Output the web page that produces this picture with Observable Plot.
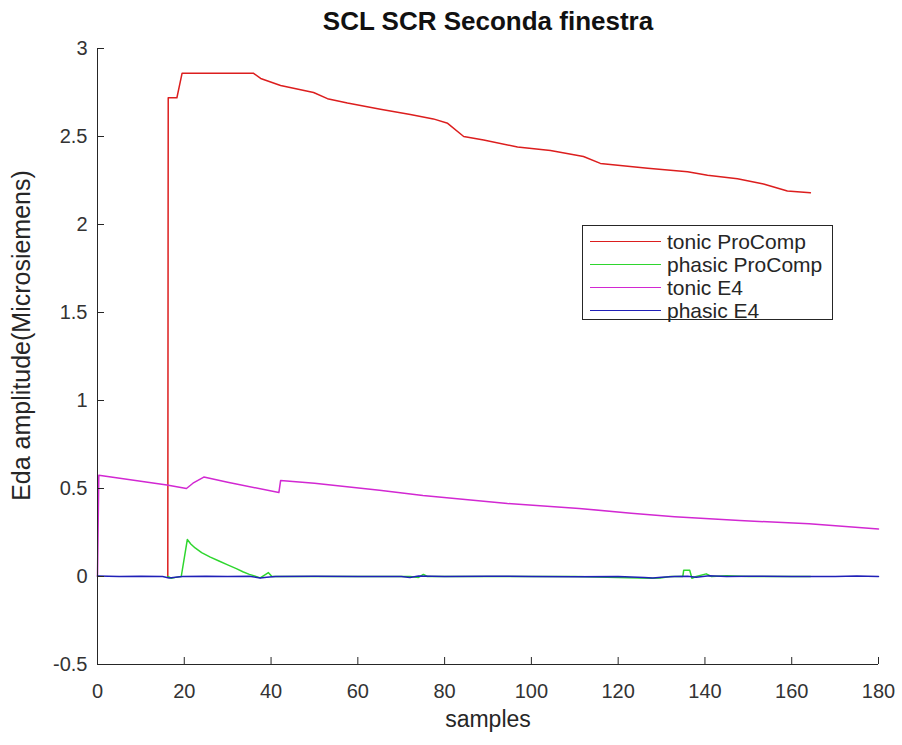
<!DOCTYPE html>
<html><head><meta charset="utf-8">
<script src="https://cdn.jsdelivr.net/npm/d3@7"></script>
<script src="https://cdn.jsdelivr.net/npm/@observablehq/plot@0.6"></script>
<style>
body{margin:0;background:#fff;font-family:"Liberation Sans",Arial,sans-serif;}
#wrap{position:relative;width:902px;height:745px;}
#legend{position:absolute;left:582px;top:225px;width:251px;height:95px;border:1px solid #262626;background:#fff;box-sizing:border-box;}
.row{position:absolute;left:0;height:23px;width:100%;}
.row .sw{position:absolute;left:7px;width:71px;top:11px;height:0;border-top:1.5px solid;}
.row .lb{position:absolute;left:84px;top:0;line-height:23px;font-size:21px;color:#262626;white-space:nowrap;}
</style></head>
<body><div id="wrap"></div>
<script>
const titleText = "SCL SCR Seconda finestra";
const xLabel = "samples";
const yLabel = "Eda amplitude(Microsiemens)";
const xTicks = [0,20,40,60,80,100,120,140,160,180];
const yTicks = [-0.5,0,0.5,1,1.5,2,2.5,3];
const seriesNames = ["tonic ProComp","phasic ProComp","tonic E4","phasic E4"];
const seriesColors = ["#dc1e1e","#2ed62e","#d228d2","#2020b8"];

const tonicProCompX = [16.2,16.3,18.3,19.5,35.9,37.6,42.2,49.8,53,57.6,65.2,72.1,77.4,80.7,84.4,89,96.8,104.4,112,115.9,126.8,136,140.6,147.5,153.5,159,164.3];
const tonicProCompY = [0,2.72,2.72,2.86,2.86,2.83,2.79,2.75,2.715,2.69,2.655,2.625,2.60,2.575,2.50,2.48,2.44,2.42,2.386,2.347,2.32,2.30,2.28,2.26,2.23,2.19,2.18];

const phasicProCompX = [16.2,17,18,19.3,20.7,21.5,22.5,24,26,28,30,32,33.5,35,36,37.5,39.4,40.2,45,60,72,74,75.1,76,90,110,127.5,129.7,132,134.9,135.1,136.5,137,138,140.3,141.5,145,150,164.3];
const phasicProCompY = [0,-0.01,-0.005,0,0.21,0.185,0.162,0.136,0.11,0.088,0.066,0.045,0.027,0.012,0.005,-0.008,0.022,0,0,0,0,-0.005,0.012,0,0,0,-0.01,-0.008,0,0,0.035,0.035,-0.01,0,0.015,0,0.004,0,0];

const tonicE4X = [0,0.3,16,20.5,22,24.5,30,41.8,42.2,50,65,75,94.5,111,123,133,148,164,180];
const tonicE4Y = [0,0.575,0.52,0.50,0.53,0.565,0.535,0.477,0.545,0.53,0.49,0.46,0.415,0.387,0.36,0.34,0.318,0.30,0.27];

const phasicE4X = [0,5,10,15,16.5,18,19.5,25,30,35,37.5,39,41,50,60,70,72,74,80,90,100,110,120,126,128,130,133,136,138,141,145,150,160,170,175,180];
const phasicE4Y = [0.003,0,0.002,0,-0.008,-0.004,0,0.002,0,0.002,-0.008,-0.004,0,0.002,0,0,-0.006,0.003,0,0.002,0,-0.002,0,-0.006,-0.008,-0.004,0,0.002,-0.004,0.004,0,0.002,0,0,0.003,0];

const toRows = (xs, ys) => xs.map((x, i) => ({x, y: ys[i]}));
const series = [
  toRows(tonicProCompX, tonicProCompY),
  toRows(phasicProCompX, phasicProCompY),
  toRows(tonicE4X, tonicE4Y),
  toRows(phasicE4X, phasicE4Y)
];

const ML = 97, MR = 24, MT = 48, MB = 81, W = 902, H = 745;
const fw = W - ML - MR, fh = H - MT - MB;
const axisColor = "#262626";

const chart = Plot.plot({
  width: W, height: H,
  marginLeft: ML, marginRight: MR, marginTop: MT, marginBottom: MB,
  style: {fontFamily: "'Liberation Sans', Arial, sans-serif", fontSize: "20px", color: "#333", background: "white"},
  x: {domain: [0, 180]},
  y: {domain: [-0.5, 3]},
  marks: [
    ...series.map((d, i) => Plot.line(d, {x: "x", y: "y", stroke: seriesColors[i], strokeWidth: 1.5})),
    Plot.ruleX([0], {stroke: axisColor, strokeWidth: 1}),
    Plot.ruleY([-0.5], {stroke: axisColor, strokeWidth: 1}),
    Plot.tickX(xTicks, {x: d => d, insetTop: fh - 7, stroke: axisColor}),
    Plot.tickY(yTicks, {y: d => d, insetRight: fw - 7, stroke: axisColor}),
    Plot.axisX({ticks: xTicks, tickSize: 0, tickPadding: 19, tickFormat: d => String(d), label: null}),
    Plot.axisY({ticks: yTicks, tickSize: 0, tickPadding: 10, tickFormat: d => String(d), label: null}),
    Plot.text([titleText], {frameAnchor: "top", lineAnchor: "middle", dy: -27, fontWeight: "bold", fontSize: 26, fill: "#111"}),
    Plot.text([xLabel], {frameAnchor: "bottom", lineAnchor: "middle", dy: 55, fontSize: 23, fill: "#262626"}),
    Plot.text([yLabel], {frameAnchor: "left", textAnchor: "middle", lineAnchor: "middle", dx: -76, dy: -21, rotate: -90, fontSize: 25, fill: "#262626"})
  ]
});

const wrap = document.getElementById("wrap");
wrap.appendChild(chart);
const legend = document.createElement("div");
legend.id = "legend";
seriesNames.forEach((name, i) => {
  const row = document.createElement("div");
  row.className = "row";
  row.style.top = (4 + i * 23) + "px";
  const sw = document.createElement("div");
  sw.className = "sw";
  sw.style.borderTopColor = seriesColors[i];
  const lb = document.createElement("div");
  lb.className = "lb";
  lb.textContent = name;
  row.appendChild(sw); row.appendChild(lb);
  legend.appendChild(row);
});
wrap.appendChild(legend);
</script>
</body></html>
